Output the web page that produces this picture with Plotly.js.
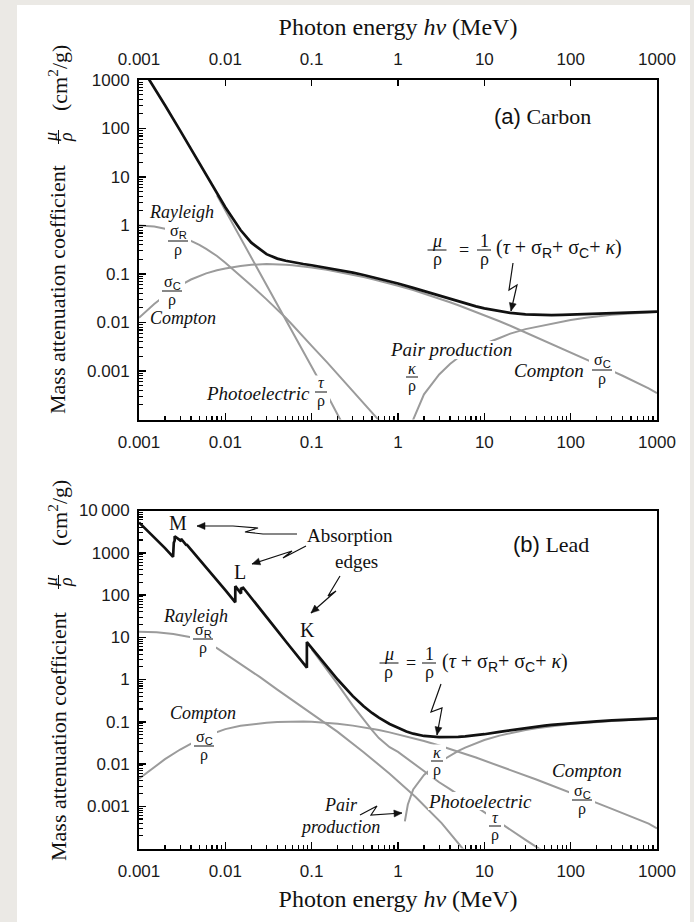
<!DOCTYPE html>
<html><head><meta charset="utf-8">
<script src="https://cdn.plot.ly/plotly-3.0.1.min.js"></script>
<style>html,body{margin:0;padding:0;background:#ebe9e5;} #chart{width:694px;height:922px;}</style>
</head><body><div id="chart"></div>
<script>
// ---------------- Carbon (a) ----------------
const cTotalE = [0.001,0.0015,0.002,0.003,0.004,0.005,0.006,0.008,0.01,0.015,0.02,0.03,0.04,0.05,0.06,0.08,0.1,0.15,0.2,0.3,0.4,0.5,0.6,0.8,1,1.5,2,3,4,5,6,8,10,15,20,30,40,50,60,80,100,150,200,300,500,1000];
const cTotal  = [2211,700.2,302.6,90.33,37.78,19.12,10.95,4.576,2.373,0.8071,0.4420,0.2562,0.2076,0.1871,0.1753,0.1610,0.1514,0.1347,0.1229,0.1066,0.09546,0.08715,0.08058,0.07076,0.06361,0.05179,0.04442,0.03562,0.03047,0.02708,0.02469,0.02154,0.01959,0.01698,0.01575,0.01470,0.01434,0.01424,0.01424,0.01438,0.01456,0.0150,0.0153,0.0158,0.0163,0.0168];
const cRayE = [0.001,0.0015,0.002,0.003,0.004,0.005,0.006,0.008,0.01,0.015,0.02,0.03,0.04,0.05,0.06,0.08,0.1,0.15,0.2,0.3,0.4,0.5,0.6,0.7];
const cRay  = [1.0,0.95,0.86,0.64,0.48,0.40,0.33,0.235,0.17,0.093,0.058,0.030,0.0185,0.0125,0.0089,0.0052,0.0033,0.00152,0.00085,0.00038,0.000215,0.000138,0.000097,0.000071];
const cPhotoE = [0.008,0.01,0.015,0.02,0.03,0.04,0.05,0.06,0.08,0.1,0.15,0.2,0.25];
const cPhoto  = [4.2,2.05,0.57,0.225,0.058,0.023,0.0114,0.0064,0.0026,0.00128,0.00033,0.000125,0.00006];
const cCompE = [0.001,0.0015,0.002,0.003,0.004,0.005,0.006,0.008,0.01,0.015,0.02,0.03,0.04,0.05,0.06,0.08,0.1,0.15,0.2,0.3,0.4,0.5,0.6,0.8,1,1.5,2,3,4,5,6,8,10,15,20,30,40,50,60,80,100,150,200,300,400,500,600,800,1000];
const cComp  = [0.0125,0.024,0.036,0.058,0.077,0.092,0.103,0.119,0.13,0.147,0.155,0.160,0.159,0.155,0.151,0.143,0.136,0.122,0.111,0.0963,0.0862,0.0787,0.0728,0.0639,0.0574,0.0467,0.0397,0.0312,0.0262,0.0227,0.0201,0.0166,0.0142,0.0106,0.00857,0.00625,0.00501,0.00421,0.00365,0.00292,0.00245,0.00177,0.00141,0.00101,0.000799,0.000667,0.000575,0.00044,0.00035];
const cPairE = [1.4,1.5,2,3,4,5,6,8,10,15,20,30,40,50,60,80,100,150,200,300,500,1000];
const cPair  = [0.00007,0.0001,0.00033,0.00085,0.0014,0.0019,0.0023,0.0030,0.0036,0.0048,0.0059,0.0073,0.0081,0.0088,0.0094,0.0104,0.0112,0.0125,0.0134,0.0144,0.0154,0.0164];

// ---------------- Lead (b) ----------------
const pTotalE = [0.001,0.0015,0.002,0.00248,0.00248,0.00253,0.00259,0.00259,0.003,0.00307,0.00307,0.0033,0.00355,0.00355,0.0037,0.00385,0.00385,0.004,0.005,0.006,0.008,0.01,0.01304,0.01304,0.015,0.0152,0.0152,0.0155,0.01586,0.01586,0.02,0.03,0.04,0.05,0.06,0.08,0.088,0.088,0.1,0.15,0.2,0.3,0.4,0.5,0.6,0.8,1,1.25,1.5,2,3,4,5,6,8,10,15,20,30,40,50,60,80,100,150,200,300,500,1000];
const pTotal  = [5210,2356,1285,800.6,1397,1726,1944,2458,1965,1857,2146,1796,1496,1585,1442,1311,1368,1251,730.4,467.2,228.7,130.6,67.01,162.1,111.6,107.8,148.5,141.6,134.4,154.8,86.36,30.32,14.36,8.041,5.021,2.419,1.910,7.683,5.549,2.014,0.9985,0.4031,0.2323,0.1614,0.1248,0.0887,0.07102,0.05876,0.05222,0.04606,0.04334,0.04297,0.04372,0.04491,0.04775,0.05072,0.05758,0.06306,0.0712,0.0768,0.0810,0.0843,0.0890,0.0923,0.0985,0.1025,0.1075,0.1130,0.1200];
const pRayE = [0.001,0.0016,0.0025,0.004,0.005,0.0063,0.008,0.01,0.016,0.025,0.04,0.063,0.1,0.2,0.4,0.8,1.6,3.2,5.6,7];
const pRay  = [13.5,13.2,12.0,10.0,8.7,7.1,5.5,4.07,2.19,1.15,0.575,0.30,0.155,0.0575,0.019,0.0059,0.00166,0.0004,0.0001,0.000063];
const pPhotoE = [0.1,0.15,0.2,0.3,0.4,0.5,0.6,0.8,1,1.5,2,3,4,5,6,8,10,15,20,30,40,50];
const pPhoto  = [5.2,1.75,0.78,0.24,0.11,0.063,0.041,0.025,0.0193,0.0106,0.0070,0.0037,0.00255,0.00187,0.00146,0.00098,0.00072,0.00041,0.00028,0.00016,0.000109,0.000081];
const pCompE = [0.001,0.0015,0.002,0.003,0.004,0.005,0.006,0.008,0.01,0.015,0.02,0.03,0.04,0.05,0.06,0.08,0.1,0.15,0.2,0.3,0.4,0.5,0.6,0.8,1,1.5,2,3,4,5,6,8,10,15,20,30,40,50,60,80,100,150,200,300,400,500,600,800,1000];
const pComp  = [0.0045,0.0085,0.013,0.022,0.031,0.039,0.046,0.058,0.067,0.080,0.087,0.095,0.099,0.101,0.102,0.102,0.100,0.095,0.090,0.081,0.074,0.069,0.064,0.056,0.050,0.041,0.035,0.0275,0.023,0.0195,0.0172,0.0142,0.0121,0.0090,0.0073,0.0054,0.0043,0.0036,0.0031,0.0025,0.0021,0.0015,0.0012,0.00087,0.00069,0.00058,0.00050,0.00039,0.00030];
const pPairE = [1.2,1.3,1.5,2,3,4,5,6,8,10,15,20,30,40,50,60,80,100,150,200,300,500,1000];
const pPair  = [0.00044,0.0011,0.0025,0.0055,0.0110,0.0160,0.0205,0.0245,0.031,0.037,0.047,0.054,0.064,0.070,0.075,0.078,0.084,0.088,0.095,0.099,0.104,0.110,0.1195];

// ---------------- tick labels ----------------
const xTickVals = [0.001,0.01,0.1,1,10,100,1000];
const xTickText = ['0.001','0.01','0.1','1','10','100','1000'];
const yTopVals = [0.001,0.01,0.1,1,10,100,1000];
const yTopText = ['0.001','0.01','0.1','1','10','100','1000'];
const yBotVals = [0.001,0.01,0.1,1,10,100,1000,10000];
const yBotText = ['0.001','0.01','0.1','1','10','100','1000','10\u2009000'];

// ---------------- layout helpers ----------------
const W=694, H=922;
const px = x => x/W, py = y => 1 - y/H;
function minorVals(d0,d1){const a=[];for(let d=d0;d<d1;d++)for(let k=2;k<=9;k++)a.push(k*Math.pow(10,d));return a;}

const GRAY='#9b9b9b', BLK='#111111';
const tickFont={family:'Liberation Sans, Arial, sans-serif',size:17,color:'#1a1a1a'};
const serif='Liberation Serif, Times New Roman, serif';
function axis(extra){
  return Object.assign({type:'log',showgrid:false,zeroline:false,showline:true,linecolor:'#000',linewidth:2,
    ticks:'inside',ticklen:7,tickwidth:1.5,tickcolor:'#000',tickfont:tickFont,tickmode:'array'},extra);
}
function minor(vals){return {tickmode:'array',tickvals:vals,ticks:'inside',ticklen:4,tickwidth:1.1,tickcolor:'#000'};}

function line(x,y,color,width,xa,ya){return {x,y,type:'scatter',mode:'lines',line:{color,width,shape:'linear'},xaxis:xa,yaxis:ya,hoverinfo:'skip',showlegend:false};}

const data=[
  line(cRayE,cRay,GRAY,2,'x','y'),
  line(cPhotoE,cPhoto,GRAY,2,'x','y'),
  line(cCompE,cComp,GRAY,2,'x','y'),
  line(cPairE,cPair,GRAY,2,'x','y'),
  line(cTotalE,cTotal,BLK,2.7,'x2','y'),
  line(pRayE,pRay,GRAY,2,'x3','y3'),
  line(pPhotoE,pPhoto,GRAY,2,'x3','y3'),
  line(pCompE,pComp,GRAY,2,'x3','y3'),
  line(pPairE,pPair,GRAY,2,'x3','y3'),
  line(pTotalE,pTotal,BLK,2.7,'x3','y3')
];

const xDom=[px(139),px(657)];
const ann=[], shpBg=[], shpMask=[], shpFg=[];
shpBg.push({type:'rect',xref:'paper',yref:'paper',x0:px(17),x1:px(690),y0:0,y1:py(5),fillcolor:'#ffffff',line:{width:0},layer:'below'});

function mask(x,y,hw,hh){
  shpMask.push({type:'rect',xref:'paper',yref:'paper',x0:px(x-hw),x1:px(x+hw),y0:py(y+hh),y1:py(y-hh),fillcolor:'#ffffff',line:{width:0},layer:'above'});
}
function txt(x,y,text,opt){
  opt=opt||{};
  const a={xref:'paper',yref:'paper',x:px(x),y:py(y),text,showarrow:false,xanchor:opt.xanchor||'center',yanchor:'middle',
    borderpad:0,font:{family:opt.family||serif,size:opt.size||17,color:'#111'}};
  if(opt.angle!==undefined) a.textangle=opt.angle;
  if(opt.mw) mask(x,y,opt.mw,opt.mh||10);
  ann.push(a);
}
const subS = s => "<sub><span style='font-family:Liberation Sans, Arial'>"+s+"</span></sub>";
function frac(x,yb,num,den,w,opt){
  opt=opt||{};
  const size=opt.size||16;
  if(opt.bg) mask(x,yb+0.5,w/2+3,17);
  txt(x,yb-9,num,{size});
  txt(x,yb+9,den,{size});
  shpFg.push({type:'line',xref:'paper',yref:'paper',x0:px(x-w/2),x1:px(x+w/2),y0:py(yb),y1:py(yb),line:{color:'#111',width:1}});
}
function zig(pts){
  let d='';
  pts.forEach((p,i)=>{d+=(i?' L ':'M ')+px(p[0]).toFixed(5)+' '+py(p[1]).toFixed(5);});
  shpFg.push({type:'path',xref:'paper',yref:'paper',path:d,line:{color:'#111',width:1.2}});
  const a=pts[pts.length-2], b=pts[pts.length-1];
  const dx=b[0]-a[0], dy=b[1]-a[1], L=Math.hypot(dx,dy), ux=dx/L, uy=dy/L;
  const bx=b[0]-ux*8, by=b[1]-uy*8;
  const p1=[bx-uy*3.5,by+ux*3.5], p2=[bx+uy*3.5,by-ux*3.5];
  const t='M '+[b,p1,p2].map(p=>px(p[0]).toFixed(5)+' '+py(p[1]).toFixed(5)).join(' L ')+' Z';
  shpFg.push({type:'path',xref:'paper',yref:'paper',path:t,fillcolor:'#111',line:{color:'#111',width:0.5}});
}

// y axis titles (rotated)
function yTitle(cMain,cFrac,cUnit){
  txt(58,cMain,'Mass attenuation coefficient',{size:22,angle:-90});
  txt(51,cFrac,'<i>μ</i>',{size:18,angle:-90});
  txt(66,cFrac,'<i>ρ</i>',{size:18,angle:-90});
  shpFg.push({type:'line',xref:'paper',yref:'paper',x0:px(58.5),x1:px(58.5),y0:py(cFrac-7),y1:py(cFrac+7),line:{color:'#111',width:1}});
  txt(58,cUnit,'(cm<sup>2</sup>/g)',{size:22,angle:-90});
}
yTitle(290,137,78);
yTitle(737,582,513);

const B={bg:true};
// ----- panel (a) labels -----
txt(542,117,"<span style='font-family:Liberation Sans, Arial'>(a)</span> Carbon",{size:22});
txt(181,212,'<i>Rayleigh</i>',{size:18});
frac(178,241,'σ'+subS('R'),'ρ',20,B);
frac(172,291,'σ'+subS('C'),'ρ',20,B);
txt(183,318,'<i>Compton</i>',{size:18});
txt(258,393,'<i>Photoelectric</i>',{size:19});
frac(321,392,'<i>τ</i>','ρ',12,B);
txt(451,350,'<i>Pair production</i>',{size:19,mw:62,mh:9});
frac(412,377,'<i>κ</i>','ρ',12);
txt(549,371,'<i>Compton</i>',{size:19});
frac(602,370,'σ'+subS('C'),'ρ',20,B);
frac(437,250,'<i>μ</i>','ρ',19,{size:18});
txt(464,250,'=',{size:18});
frac(484,250,'1','ρ',14,{size:18});
txt(495,249,'(<i>τ</i> + σ'+subS('R')+'+ σ'+subS('C')+'+ <i>κ</i>)',{size:20,xanchor:'left'});
zig([[513,263],[509,290],[517,285],[511,311]]);

// ----- panel (b) labels -----
txt(551,544,"<span style='font-family:Liberation Sans, Arial'>(b)</span> Lead",{size:22});
txt(178,523,'M',{size:20});
txt(240,572,'L',{size:20});
txt(307,630,'K',{size:20});
txt(350,535,'Absorption',{size:19});
txt(356,561,'edges',{size:19});
zig([[297,534],[263,534],[245,532],[258,528],[233,526],[197,526]]);
zig([[306,546],[283,558],[292,551],[252,564]]);
zig([[340,576],[328,596],[336,591],[311,613]]);
txt(195,616,'<i>Rayleigh</i>',{size:18});
frac(203,639,'σ'+subS('R'),'ρ',20,B);
txt(203,713,'<i>Compton</i>',{size:18});
frac(204,746,'σ'+subS('C'),'ρ',20,B);
txt(341,805,'<i>Pair</i>',{size:18});
txt(340,827,'<i>production</i>',{size:18});
zig([[360,815],[377,806],[371,815],[402,813]]);
frac(389,663,'<i>μ</i>','ρ',19,{size:18});
txt(411,663,'=',{size:18});
frac(429,663,'1','ρ',14,{size:18});
txt(441,662,'(<i>τ</i> + σ'+subS('R')+'+ σ'+subS('C')+'+ <i>κ</i>)',{size:20,xanchor:'left'});
zig([[441,684],[431,712],[442,708],[437,735]]);
frac(437,761,'<i>κ</i>','ρ',12,B);
txt(480,801,'<i>Photoelectric</i>',{size:19,mw:52,mh:9});
frac(495,826,'<i>τ</i>','ρ',12,B);
txt(587,770,'<i>Compton</i>',{size:19});
frac(582,800,'σ'+subS('C'),'ρ',20,B);

const xTitle={text:'Photon energy <i>hv</i> (MeV)',font:{family:serif,size:24,color:'#111'}};

const layout={
  width:W,height:H,margin:{l:0,r:0,t:0,b:0},
  paper_bgcolor:'#ebe9e5',plot_bgcolor:'#ffffff',showlegend:false,
  xaxis:axis({domain:xDom,anchor:'y',range:[-3,3],tickvals:xTickVals,ticktext:xTickText,minor:minor(minorVals(-3,3)),ticklabelstandoff:6}),
  xaxis2:axis({overlaying:'x',anchor:'y',side:'top',range:[-3,3],tickvals:xTickVals,ticktext:xTickText,ticklen:6,ticklabelstandoff:6,title:Object.assign({standoff:8},xTitle)}),
  yaxis:axis({domain:[py(419.5),py(80)],anchor:'x',range:[-4,3],tickvals:yTopVals,ticktext:yTopText,mirror:true,minor:minor(minorVals(-4,3)),ticklabelstandoff:4}),
  xaxis3:axis({domain:xDom,anchor:'y3',range:[-3,3],tickvals:xTickVals,ticktext:xTickText,mirror:true,minor:minor(minorVals(-3,3)),ticklabelstandoff:6,title:Object.assign({standoff:10},xTitle)}),
  yaxis3:axis({domain:[py(848.5),py(510.5)],anchor:'x3',range:[-4,4],tickvals:yBotVals,ticktext:yBotText,mirror:true,minor:minor(minorVals(-4,4)),ticklabelstandoff:4}),
  annotations:ann,shapes:shpBg.concat(shpMask,shpFg)
};
Plotly.newPlot('chart',data,layout,{staticPlot:true,displayModeBar:false});
</script></body></html>
